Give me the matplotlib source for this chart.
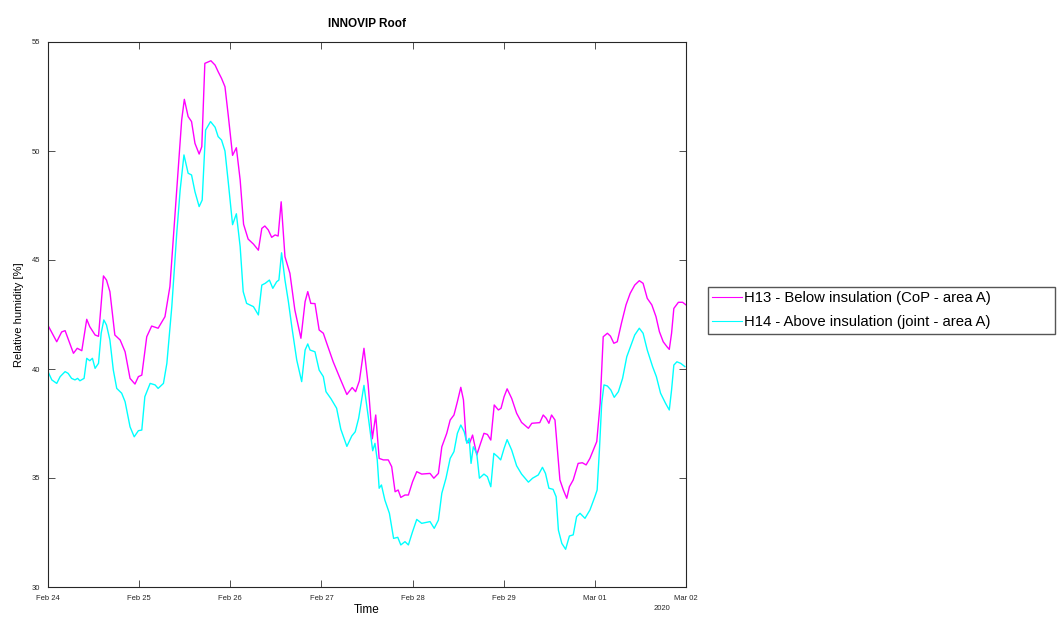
import pandas as pd
import matplotlib
matplotlib.use('Agg')
import matplotlib.pyplot as plt
import matplotlib.dates as mdates

plt.rcParams['font.family'] = ['Liberation Sans', 'DejaVu Sans']

# hours since 2020-02-24 00:00 and relative humidity readings
h13_hours = [0, 2.3, 3.6, 4.5, 6.7, 7.7, 8.9, 10.2, 11.0, 12.4, 13.3, 14.6, 15.4, 16.3, 17.6,
             19.0, 20.3, 21.6, 22.9, 23.8, 24.7, 26.0, 27.3, 29.0, 30.8, 32.1, 33.9, 35.2, 35.9,
             36.9, 37.8, 38.7, 39.8, 40.5, 41.3, 42.9, 44.0, 44.8, 45.7, 46.6, 47.5, 48.6, 49.6,
             50.6, 51.5, 52.7, 54.1, 55.4, 56.3, 57.1, 58.0, 58.9, 59.8, 60.6, 61.4, 62.4, 63.7,
             65.0, 66.6, 67.7, 68.4, 69.2, 70.3, 71.4, 72.5, 73.4, 75.1, 76.9, 78.7, 80.1, 81.0,
             82.0, 83.2, 84.3, 85.4, 86.3, 87.2, 88.3, 89.6, 90.5, 91.4, 92.2, 92.9, 94.0, 94.9,
             96.0, 97.1, 98.4, 100.6, 101.6, 102.8, 103.7, 105.0, 105.9, 106.9, 107.8, 108.7,
             109.4, 110.1, 111.0, 111.8, 112.9, 113.9, 114.8, 115.7, 116.6, 117.5, 118.6, 119.3,
             120.1, 120.9, 122.1, 123.4, 124.7, 126.5, 127.4, 129.5, 130.4, 131.2, 131.9, 132.6,
             133.5, 134.8, 135.7, 136.6, 137.3, 138.3, 139.6, 140.7, 141.7, 142.7, 144.5, 145.4,
             146.2, 147.3, 148.1, 149.0, 149.9, 151.0, 152.2, 153.3, 154.5, 155.7, 156.7, 157.8,
             159.0, 160.1, 161.0, 162.0, 163.0, 163.6, 164.2, 164.8, 166.0, 167.1, 168.0]
h13_values = [42.0, 41.25, 41.7, 41.76, 40.72, 40.95, 40.84, 42.28, 41.94, 41.56, 41.5, 44.27, 44.08,
              43.55, 41.56, 41.33, 40.79, 39.57, 39.31, 39.65, 39.72, 41.48, 41.97, 41.87, 42.4,
              43.78, 48.21, 51.42, 52.37, 51.58, 51.35, 50.35, 49.86, 50.2, 54.02, 54.14, 53.94,
              53.64, 53.33, 52.95, 51.58, 49.8, 50.15, 48.67, 46.64, 45.96, 45.73, 45.45, 46.45,
              46.56, 46.38, 46.04, 46.15, 46.1, 47.67, 45.15, 44.39, 42.71, 41.41, 43.09, 43.55,
              43.01, 43.0, 41.79, 41.64, 41.18, 40.33, 39.57, 38.83, 39.15, 38.96, 39.46, 40.95,
              39.3, 36.8, 37.89, 35.9, 35.83, 35.83, 35.52, 34.37, 34.45, 34.11, 34.22, 34.22,
              34.83, 35.29, 35.18, 35.21, 34.99, 35.21, 36.43, 37.05, 37.66, 37.89, 38.5, 39.16,
              38.58, 36.74, 36.59, 36.97, 36.06, 36.59, 37.05, 37.0, 36.74, 38.35, 38.12, 38.2,
              38.73, 39.09, 38.65, 37.97, 37.55, 37.28, 37.51, 37.54, 37.89, 37.74, 37.51, 37.89,
              37.66, 34.91, 34.45, 34.07, 34.6, 34.91, 35.67, 35.7, 35.6, 35.9, 36.67, 38.43,
              41.48, 41.64, 41.51, 41.18, 41.25, 42.1, 42.94, 43.47, 43.85, 44.05, 43.93, 43.24,
              42.94, 42.4, 41.71, 41.25, 41.02, 40.9, 41.64, 42.78, 43.06, 43.06, 42.94]

h14_hours = [0, 1.0, 2.3, 3.2, 4.5, 5.3, 6.2, 7.1, 7.8, 8.4, 9.5, 10.2, 11.0, 11.7, 12.4, 13.3,
             14.0, 14.7, 15.4, 16.3, 17.2, 18.1, 19.4, 20.3, 21.6, 22.7, 23.8, 24.7, 25.5, 26.9,
             28.2, 29.0, 30.4, 31.3, 32.6, 33.9, 34.8, 35.8, 36.9, 37.8, 38.7, 39.8, 40.6, 41.5,
             42.8, 44.0, 44.8, 45.7, 46.6, 47.5, 48.6, 49.6, 50.6, 51.4, 52.3, 54.1, 55.4, 56.3,
             57.2, 58.3, 59.2, 60.2, 60.8, 61.5, 62.4, 63.3, 64.2, 65.5, 66.8, 67.7, 68.4, 69.0,
             70.3, 71.4, 72.5, 73.2, 74.5, 76.0, 77.1, 78.7, 80.0, 80.9, 81.8, 83.2, 84.3, 85.5,
             86.1, 86.7, 87.2, 87.8, 88.7, 89.9, 91.0, 92.1, 92.9, 94.0, 94.9, 96.0, 97.1, 98.4,
             100.6, 101.7, 102.8, 103.7, 104.8, 105.9, 106.9, 107.8, 108.7, 109.6, 110.3, 110.9,
             111.4, 112.0, 112.9, 113.6, 114.8, 115.7, 116.6, 117.4, 118.4, 119.2, 120.1, 120.9,
             122.1, 123.4, 124.7, 126.5, 127.6, 129.1, 130.2, 131.0, 131.9, 133.0, 133.8, 134.4,
             135.3, 136.3, 137.3, 138.3, 139.2, 140.1, 141.4, 142.7, 144.0, 144.6, 145.2, 145.8,
             146.4, 147.3, 148.2, 149.1, 150.2, 151.3, 152.4, 153.7, 154.5, 155.7, 156.7, 157.8,
             159.2, 160.2, 161.3, 162.6, 163.6, 164.2, 164.8, 165.6, 166.6, 167.7]
h14_values = [39.88, 39.5, 39.34, 39.65, 39.88, 39.8, 39.57, 39.5, 39.57, 39.46, 39.57, 40.49, 40.38,
              40.49, 40.03, 40.26, 41.64, 42.25, 42.02, 41.33, 39.95, 39.11, 38.89, 38.5, 37.35,
              36.89, 37.17, 37.2, 38.73, 39.34, 39.27, 39.11, 39.34, 40.26, 42.86, 46.22, 48.21,
              49.82, 48.98, 48.9, 48.13, 47.45, 47.75, 50.96, 51.35, 51.09, 50.66, 50.5, 50.0,
              48.52, 46.62, 47.12, 45.61, 43.55, 43.01, 42.86, 42.48, 43.85, 43.93, 44.08, 43.7,
              44.0, 44.08, 45.33, 44.08, 43.09, 41.94, 40.41, 39.42, 40.87, 41.15, 40.87, 40.79,
              39.95, 39.65, 38.96, 38.64, 38.2, 37.24, 36.45, 36.93, 37.12, 37.74, 39.25, 37.85,
              36.25, 36.59, 35.83, 34.53, 34.68, 33.99, 33.38, 32.23, 32.28, 31.93, 32.08, 31.93,
              32.54, 33.1, 32.92, 33.0, 32.69, 33.07, 34.3, 34.99, 35.9, 36.21, 37.05, 37.43,
              37.12, 36.59, 36.82, 35.67, 36.43, 36.13, 34.99, 35.18, 35.06, 34.6, 36.13, 35.98,
              35.83, 36.36, 36.76, 36.28, 35.56, 35.18, 34.81, 34.99, 35.14, 35.49, 35.21, 34.53,
              34.48, 34.14, 32.61, 32.0, 31.73, 32.34, 32.39, 33.23, 33.38, 33.15, 33.53, 34.14,
              34.45, 36.28, 38.43, 39.27, 39.22, 39.04, 38.7, 38.96, 39.57, 40.56, 41.18, 41.56,
              41.87, 41.64, 40.87, 40.11, 39.65, 38.89, 38.43, 38.12, 39.04, 40.18, 40.33, 40.26,
              40.11]

labels = ['H13 - Below insulation (CoP - area A)', 'H14 - Above insulation (joint - area A)']
start = pd.Timestamp('2020-02-24')
t13 = start + pd.to_timedelta(h13_hours, unit='h')
t14 = start + pd.to_timedelta(h14_hours, unit='h')

fig = plt.figure(figsize=(10.57, 6.17), dpi=100)
ax = fig.add_axes([48/1057, 30/617, 638/1057, 545/617])
ax.plot(t13, h13_values, color='#ff00ff', lw=1, label=labels[0])
ax.plot(t14, h14_values, color='#00ffff', lw=1, label=labels[1])

ax.set_xlim(start, pd.Timestamp('2020-03-02'))
ax.set_ylim(30, 55)
ax.set_yticks([30, 35, 40, 45, 50, 55])
ax.xaxis.set_major_locator(mdates.DayLocator())
ax.xaxis.set_major_formatter(mdates.DateFormatter('%b %d'))
ax.tick_params(direction='in', length=5, width=0.6, labelsize=5.5, top=True, right=True,
               color='#333333', labelcolor='#262626', pad=5.5)
for s in ax.spines.values():
    s.set_linewidth(0.8)
    s.set_color('#262626')

ax.set_title('INNOVIP Roof', fontsize=8.5, fontweight='bold', pad=11)
ax.set_ylabel('Relative humidity [%]', fontsize=8, labelpad=6)
fig.text(367/1057, 1 - 610/617, 'Time', fontsize=8.5, ha='center', va='center')
ax.text(0.963, -0.04, '2020', transform=ax.transAxes, fontsize=5.5, ha='center', va='center',
        color='#262626')

fig.legend(loc='upper left', mode='expand',
           bbox_to_anchor=(708/1057, 1 - 341/617, 347/1057, 54/617), fontsize=10.7,
           frameon=True, fancybox=False, edgecolor='#555555', framealpha=1,
           handlelength=2.0, handletextpad=0.12, borderpad=0.3, labelspacing=0.65,
           borderaxespad=0)
for line in fig.legends[0].get_lines():
    line.set_linewidth(0.8)

fig.savefig('out.png', dpi=100)
